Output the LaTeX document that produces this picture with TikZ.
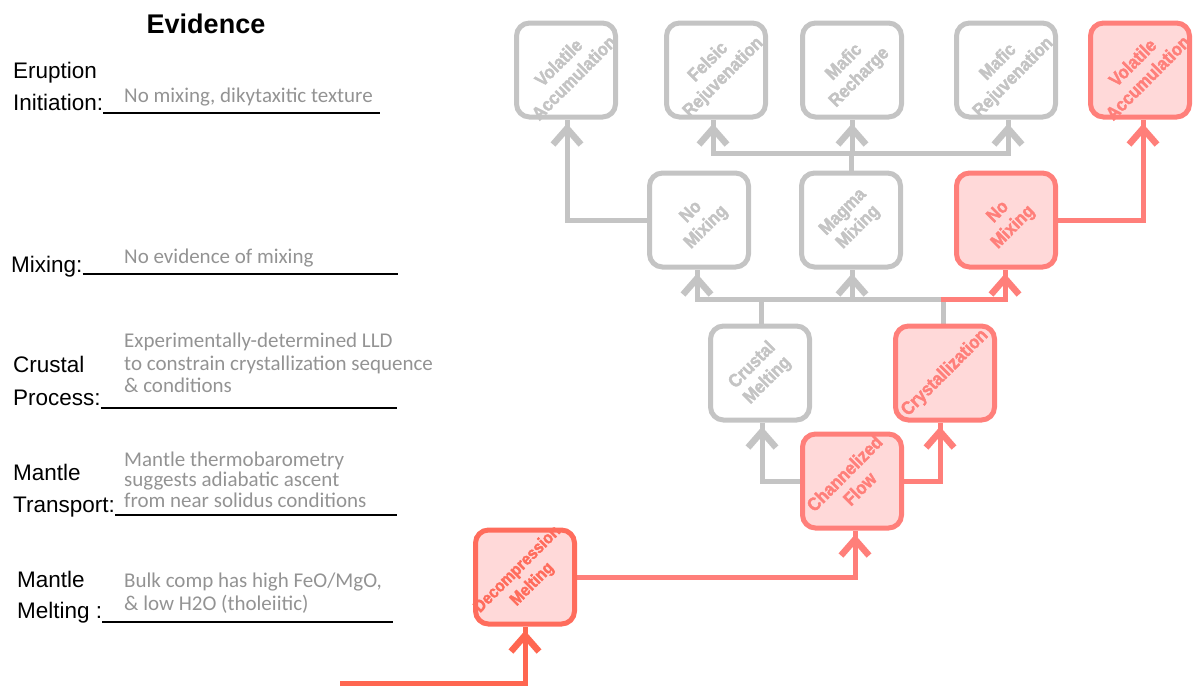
\documentclass[tikz,border=0pt]{standalone}
\usepackage{fontspec}
\setmainfont{Liberation Sans}
\newfontfamily\handfont{Carlito}
\newfontfamily\boxfont{Liberation Sans Bold}[FakeStretch=0.9, FakeBold=2]
\usetikzlibrary{calc}
\definecolor{boxgray}{HTML}{C4C4C4}
\definecolor{boxred}{HTML}{FF7F7A}
\definecolor{fillred}{HTML}{FFD9D9}
\definecolor{dmred}{HTML}{FF6C5C}
\definecolor{startred}{HTML}{FF6650}
\definecolor{handgray}{HTML}{939393}
\pgfdeclarelayer{bg}
\pgfsetlayers{bg,main}
\newcommand{\upbarb}[2]{\draw[#1, line width=6.5pt, line join=miter, line cap=butt] ($(#2)+(-14,25)$) -- ($(#2)+(0,9)$) -- ($(#2)+(14,25)$);}
\begin{document}
\begin{tikzpicture}[x=1pt,y=-1pt,
  box/.style={draw, rounded corners=13pt, minimum width=99pt, minimum height=94pt, line width=5pt, inner sep=0pt},
  graybox/.style={box, draw=boxgray, fill=white},
  redbox/.style={box, draw=boxred, fill=fillred},
  boxtxt/.style={rotate=45, align=center, font=\boxfont\fontsize{18.5}{21.5}\selectfont, inner sep=0pt},
  conn/.style={line width=5pt},
  lab/.style={anchor=base west, font=\fontsize{22.5}{27}\selectfont, inner sep=0pt},
  hand/.style={anchor=base west, font=\handfont\fontsize{21}{24}\selectfont, text=handgray, inner sep=0pt},
  uline/.style={line width=1.3pt},
]
\useasboundingbox (0,0) rectangle (1194,686);

% ---- boxes ----
\node[graybox] (va1) at (566,70) {};
\node[graybox] (fr)  at (716,70) {};
\node[graybox] (mr)  at (852,70) {};
\node[graybox] (mrj) at (1006,70) {};
\node[redbox]  (va2) at (1140,70) {};
\node[graybox] (nm1) at (699,220) {};
\node[graybox] (mm)  at (851,220) {};
\node[redbox]  (nm2) at (1006,220) {};
\node[graybox] (cm)  at (760,373) {};
\node[redbox]  (cr)  at (945,373) {};
\node[redbox]  (cf)  at (852,481) {};
\node[redbox, draw=dmred] (dm) at (525,577) {};

\node[boxtxt, text=boxgray] (va1t) at (va1) {Volatile\\Accumulation};
\node[boxtxt, text=boxgray] (frt)  at (fr)  {Felsic\\Rejuvenation};
\node[boxtxt, text=boxgray] (mrt)  at (mr)  {Mafic\\Recharge};
\node[boxtxt, text=boxgray] (mrjt) at (mrj) {Mafic\\Rejuvenation};
\node[boxtxt, text=boxred]  (va2t) at (va2) {Volatile\\Accumulation};
\node[boxtxt, text=boxgray] (nm1t) at (nm1) {No\\Mixing};
\node[boxtxt, text=boxgray] (mmt)  at (mm)  {Magma\\Mixing};
\node[boxtxt, text=boxred]  (nm2t) at (nm2) {No\\Mixing};
\node[boxtxt, text=boxgray] (cmt)  at (cm)  {Crustal\\Melting};
\node[boxtxt, text=boxred]  (crt)  at (cr)  {Crystallization};
\node[boxtxt, text=boxred]  (cft)  at (cf)  {Channelized\\Flow};
\node[boxtxt, text=dmred, font=\boxfont\fontsize{17}{21}\selectfont] (dmt) at (dm) {Decompression\\Melting};

% ---- connectors ----
\coordinate (s)  at (340,683);
\coordinate (j1) at (943,299);
\coordinate (j2) at (852,153);
\coordinate (tdm)  at (dm.south);
\coordinate (tcf)  at ($(cf.south)+(3,0)$);
\coordinate (tcr)  at ($(cr.south)+(-5,0)$);
\coordinate (tcm)  at ($(cm.south)+(2,0)$);
\coordinate (tnm1) at ($(nm1.south)+(-2,0)$);
\coordinate (tmm)  at ($(mm.south)+(1,0)$);
\coordinate (tnm2) at ($(nm2.south)+(-1,0)$);
\coordinate (tva1) at ($(va1.south)+(1,0)$);
\coordinate (tfr)  at ($(fr.south)+(-3,0)$);
\coordinate (tmr)  at (mr.south);
\coordinate (tmrj) at ($(mrj.south)+(2,0)$);
\coordinate (tva2) at ($(va2.south)+(3,0)$);
\begin{pgfonlayer}{bg}
  \draw[conn, startred] (s) -| (tdm);
  \upbarb{startred}{tdm}
  \draw[conn, boxred] (dm.east) -| (tcf);
  \upbarb{boxred}{tcf}
  \draw[conn, boxred] (cf.east) -| (tcr);
  \upbarb{boxred}{tcr}
  \draw[conn, boxgray] (cf.west) -| (tcm);
  \upbarb{boxgray}{tcm}
  \draw[conn, boxgray] ($(cm.north)+(1,0)$) -- ($(cm.north |- j1)+(1,0)$);
  \draw[conn, boxgray] ($(cr.north)+(-2,0)$) |- (j1) -| (tnm1);
  \upbarb{boxgray}{tnm1}
  \draw[conn, boxgray] (tmm |- j1) -- (tmm);
  \upbarb{boxgray}{tmm}
  \draw[conn, boxred] ([xshift=-2.5pt]j1) -| (tnm2);
  \upbarb{boxred}{tnm2}
  \draw[conn, boxgray] (nm1.west) -| (tva1);
  \upbarb{boxgray}{tva1}
  \draw[conn, boxgray] (mm.north |- j2) -- (mm.north);
  \draw[conn, boxgray] (j2) -| (tfr);
  \upbarb{boxgray}{tfr}
  \draw[conn, boxgray] (j2) -| (tmrj);
  \upbarb{boxgray}{tmrj}
  \draw[conn, boxgray] (j2) -- (tmr);
  \upbarb{boxgray}{tmr}
  \draw[conn, boxred] (nm2.east) -| (tva2);
  \upbarb{boxred}{tva2}
\end{pgfonlayer}

% ---- evidence column ----
\node[anchor=base, font=\bfseries\fontsize{27}{30}\selectfont, inner sep=0pt] (ev) at (206,33) {Evidence};

\node[lab] (l1a) at (13,78) {Eruption};
\node[lab] (l1b) at (13,110) {Initiation:};
\draw[uline] ([yshift=-3pt]l1b.base east) -- (380,113);
\node[hand] (h1) at (124,102) {No mixing, dikytaxitic texture};

\node[lab] (l2) at (11,272) {Mixing:};
\draw[uline] ([yshift=-2pt]l2.base east) -- (398,274);
\node[hand] (h2) at (124,263) {No evidence of mixing};

\node[lab] (l3a) at (13,372) {Crustal};
\node[lab] (l3b) at (13,405) {Process:};
\draw[uline] ([yshift=-3pt]l3b.base east) -- (397,408);
\node[hand] (h3a) at (124,347) {Experimentally-determined LLD};
\node[hand] (h3b) at (124,370) {to constrain crystallization sequence};
\node[hand] (h3c) at (124,392) {\& conditions};

\node[lab] (l4a) at (13,480) {Mantle};
\node[lab] (l4b) at (13,512) {Transport:};
\draw[uline] ([yshift=-3pt]l4b.base east) -- (397,515);
\node[hand] (h4a) at (124,466) {Mantle thermobarometry};
\node[hand] (h4b) at (124,486) {suggests adiabatic ascent};
\node[hand] (h4c) at (124,507) {from near solidus conditions};

\node[lab] (l5a) at (17,587) {Mantle};
\node[lab] (l5b) at (17,618) {Melting :};
\draw[uline] ([yshift=-4pt]l5b.base east) -- (393,622);
\node[hand] (h5a) at (124,587) {Bulk comp has high FeO/MgO,};
\node[hand] (h5b) at (124,610) {\& low H2O (tholeiitic)};
\end{tikzpicture}
\end{document}
